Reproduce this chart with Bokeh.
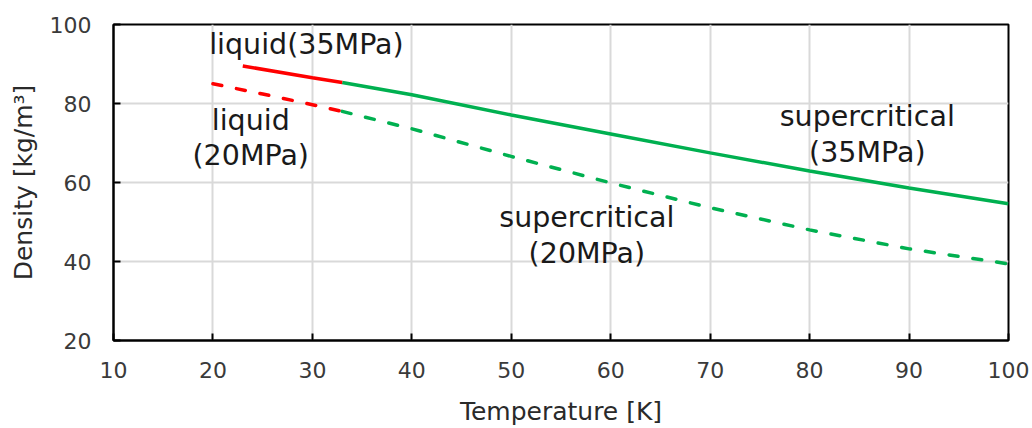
from bokeh.plotting import figure
from bokeh.models import ColumnDataSource, FixedTicker
from bokeh.core.properties import value
from bokeh.embed import file_html
from bokeh.resources import INLINE

# ---- data ----
T_liq35 = [23, 30, 33]
D_liq35 = [89.5, 86.5, 85.3]
T_sc35 = [33, 40, 50, 60, 70, 80, 90, 100]
D_sc35 = [85.3, 82.2, 77.1, 72.3, 67.5, 62.9, 58.6, 54.6]

T_liq20 = [20, 25, 30, 33]
D_liq20 = [85.0, 82.4, 79.7, 78.0]
T_sc20 = [33, 40, 50, 60, 70, 80, 90, 100]
D_sc20 = [78.0, 73.6, 66.6, 59.9, 53.6, 48.0, 43.2, 39.4]

x_ticks = [10, 20, 30, 40, 50, 60, 70, 80, 90, 100]
y_ticks = [20, 40, 60, 80, 100]

ann_text = ["liquid(35MPa)", "liquid", "(20MPa)",
            "supercritical", "(35MPa)", "supercritical", "(20MPa)"]
ann_x = [29.4, 23.8, 23.8, 85.8, 85.8, 57.6, 57.6]
ann_y = [94.9, 75.8, 66.8, 76.7, 67.7, 51.2, 42.0]

FONT = "DejaVu Sans"
RED = "#ff0000"
GREEN = "#00b050"

p = figure(width=1032, height=428, x_range=(10, 100), y_range=(20, 100),
           output_backend="svg", toolbar_location=None,
           min_border_left=113, min_border_right=24,
           min_border_top=24, min_border_bottom=87)

p.background_fill_color = "white"
p.border_fill_color = "white"
p.outline_line_color = "black"
p.outline_line_width = 2

for ax in (p.xaxis[0], p.yaxis[0]):
    ax.axis_line_color = "black"
    ax.axis_line_width = 2
    ax.major_tick_line_color = "black"
    ax.major_tick_line_width = 2
    ax.major_tick_in = 7
    ax.major_tick_out = 0
    ax.minor_tick_line_color = None
    ax.major_label_text_font = FONT
    ax.major_label_text_font_size = "22px"
    ax.major_label_text_color = "#3a3a3a"
    ax.axis_label_text_font = FONT
    ax.axis_label_text_font_size = "25px"
    ax.axis_label_text_font_style = "normal"
    ax.axis_label_text_color = "#2a2a2a"

p.xaxis.ticker = FixedTicker(ticks=x_ticks)
p.yaxis.ticker = FixedTicker(ticks=y_ticks)
p.xaxis.axis_label = "Temperature [K]"
p.yaxis.axis_label = "Density [kg/m³]"
p.xaxis.major_label_standoff = 21
p.xaxis.axis_label_standoff = 16
p.yaxis.major_label_standoff = 22
p.yaxis.axis_label_standoff = 9

p.xgrid.ticker = FixedTicker(ticks=x_ticks)
p.ygrid.ticker = FixedTicker(ticks=y_ticks)
p.grid.grid_line_color = "#d9d9d9"
p.grid.grid_line_width = 2

p.line(T_sc35, D_sc35, line_color=GREEN, line_width=3.5)
p.line(T_liq35, D_liq35, line_color=RED, line_width=3.5)
p.line(T_sc20, D_sc20, line_color=GREEN, line_width=3.5,
       line_dash="9 15", line_cap="round")
p.line(T_liq20, D_liq20, line_color=RED, line_width=3.5,
       line_dash="9 15", line_cap="round")

src = ColumnDataSource(dict(x=ann_x, y=ann_y, t=ann_text))
p.text(x="x", y="y", text="t", source=src, text_font=value(FONT),
       text_font_size="28.5px", text_color="#1a1a1a",
       text_align="center", text_baseline="alphabetic")

open("out.html", "w").write(file_html(p, INLINE))
